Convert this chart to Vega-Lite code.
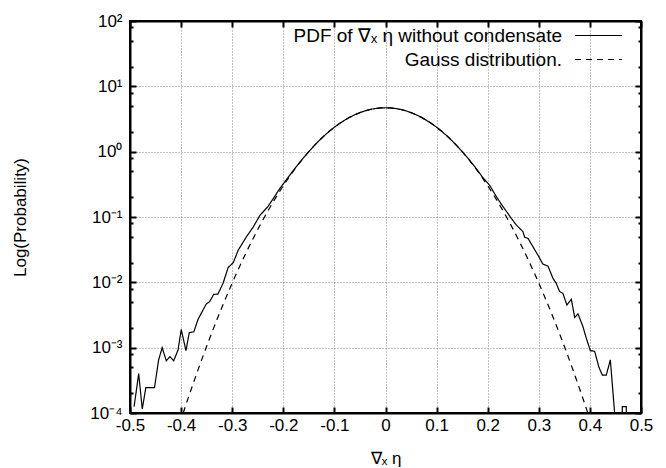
{
  "$schema": "https://vega.github.io/schema/vega-lite/v6.json",
  "width": 511,
  "height": 392,
  "autosize": {"type": "none"},
  "padding": {"left": 130, "top": 21, "right": 25, "bottom": 55},
  "background": "white",
  "config": {
    "view": {"stroke": "black", "strokeWidth": 2},
    "axis": {
      "labelFont": "Liberation Sans",
      "titleFont": "Liberation Sans",
      "labelFontSize": 17,
      "titleFontSize": 17,
      "titleFontWeight": "normal",
      "labelColor": "black",
      "titleColor": "black",
      "domain": true,
      "domainColor": "black",
      "domainWidth": 2,
      "tickColor": "black",
      "tickWidth": 2,
      "gridColor": "#888888",
      "gridDash": [1, 2],
      "gridWidth": 1
    },
    "legend": {
      "labelFont": "Liberation Sans",
      "labelFontSize": 19,
      "labelColor": "black",
      "labelLimit": 0
    }
  },
  "data": {
    "values": [
      {"series": "PDF of ∇ₓ η without condensate", "x": -0.492, "p": 0.000125},
      {"series": "PDF of ∇ₓ η without condensate", "x": -0.483, "p": 0.0004},
      {"series": "PDF of ∇ₓ η without condensate", "x": -0.476, "p": 0.000115},
      {"series": "PDF of ∇ₓ η without condensate", "x": -0.469, "p": 0.000245},
      {"series": "PDF of ∇ₓ η without condensate", "x": -0.461, "p": 0.000245},
      {"series": "PDF of ∇ₓ η without condensate", "x": -0.452, "p": 0.000245},
      {"series": "PDF of ∇ₓ η without condensate", "x": -0.444, "p": 0.00065},
      {"series": "PDF of ∇ₓ η without condensate", "x": -0.437, "p": 0.001},
      {"series": "PDF of ∇ₓ η without condensate", "x": -0.429, "p": 0.00063},
      {"series": "PDF of ∇ₓ η without condensate", "x": -0.422, "p": 0.00073},
      {"series": "PDF of ∇ₓ η without condensate", "x": -0.4145, "p": 0.00063},
      {"series": "PDF of ∇ₓ η without condensate", "x": -0.406, "p": 0.00092},
      {"series": "PDF of ∇ₓ η without condensate", "x": -0.3997, "p": 0.0019},
      {"series": "PDF of ∇ₓ η without condensate", "x": -0.3905, "p": 0.0009},
      {"series": "PDF of ∇ₓ η without condensate", "x": -0.384, "p": 0.0017},
      {"series": "PDF of ∇ₓ η without condensate", "x": -0.375, "p": 0.00175},
      {"series": "PDF of ∇ₓ η without condensate", "x": -0.367, "p": 0.0027},
      {"series": "PDF of ∇ₓ η without condensate", "x": -0.3606, "p": 0.00335},
      {"series": "PDF of ∇ₓ η without condensate", "x": -0.3508, "p": 0.00465},
      {"series": "PDF of ∇ₓ η without condensate", "x": -0.3442, "p": 0.00505},
      {"series": "PDF of ∇ₓ η without condensate", "x": -0.3363, "p": 0.00655},
      {"series": "PDF of ∇ₓ η without condensate", "x": -0.328, "p": 0.0066},
      {"series": "PDF of ∇ₓ η without condensate", "x": -0.318, "p": 0.0096},
      {"series": "PDF of ∇ₓ η without condensate", "x": -0.308, "p": 0.0168},
      {"series": "PDF of ∇ₓ η without condensate", "x": -0.298, "p": 0.02},
      {"series": "PDF of ∇ₓ η without condensate", "x": -0.288, "p": 0.0313},
      {"series": "PDF of ∇ₓ η without condensate", "x": -0.272, "p": 0.05},
      {"series": "PDF of ∇ₓ η without condensate", "x": -0.259, "p": 0.07},
      {"series": "PDF of ∇ₓ η without condensate", "x": -0.246, "p": 0.105},
      {"series": "PDF of ∇ₓ η without condensate", "x": -0.23, "p": 0.145},
      {"series": "PDF of ∇ₓ η without condensate", "x": -0.218, "p": 0.2},
      {"series": "PDF of ∇ₓ η without condensate", "x": -0.207, "p": 0.272},
      {"series": "PDF of ∇ₓ η without condensate", "x": -0.19, "p": 0.41},
      {"series": "PDF of ∇ₓ η without condensate", "x": -0.18, "p": 0.52},
      {"series": "PDF of ∇ₓ η without condensate", "x": -0.17, "p": 0.655},
      {"series": "PDF of ∇ₓ η without condensate", "x": -0.16, "p": 0.815},
      {"series": "PDF of ∇ₓ η without condensate", "x": -0.15, "p": 1.003},
      {"series": "PDF of ∇ₓ η without condensate", "x": -0.14, "p": 1.224},
      {"series": "PDF of ∇ₓ η without condensate", "x": -0.13, "p": 1.474},
      {"series": "PDF of ∇ₓ η without condensate", "x": -0.12, "p": 1.75},
      {"series": "PDF of ∇ₓ η without condensate", "x": -0.11, "p": 2.049},
      {"series": "PDF of ∇ₓ η without condensate", "x": -0.1, "p": 2.366},
      {"series": "PDF of ∇ₓ η without condensate", "x": -0.09, "p": 2.696},
      {"series": "PDF of ∇ₓ η without condensate", "x": -0.08, "p": 3.029},
      {"series": "PDF of ∇ₓ η without condensate", "x": -0.07, "p": 3.358},
      {"series": "PDF of ∇ₓ η without condensate", "x": -0.06, "p": 3.671},
      {"series": "PDF of ∇ₓ η without condensate", "x": -0.05, "p": 3.959},
      {"series": "PDF of ∇ₓ η without condensate", "x": -0.04, "p": 4.211},
      {"series": "PDF of ∇ₓ η without condensate", "x": -0.03, "p": 4.419},
      {"series": "PDF of ∇ₓ η without condensate", "x": -0.02, "p": 4.574},
      {"series": "PDF of ∇ₓ η without condensate", "x": -0.01, "p": 4.668},
      {"series": "PDF of ∇ₓ η without condensate", "x": 0, "p": 4.7},
      {"series": "PDF of ∇ₓ η without condensate", "x": 0.01, "p": 4.668},
      {"series": "PDF of ∇ₓ η without condensate", "x": 0.02, "p": 4.574},
      {"series": "PDF of ∇ₓ η without condensate", "x": 0.03, "p": 4.419},
      {"series": "PDF of ∇ₓ η without condensate", "x": 0.04, "p": 4.211},
      {"series": "PDF of ∇ₓ η without condensate", "x": 0.05, "p": 3.959},
      {"series": "PDF of ∇ₓ η without condensate", "x": 0.06, "p": 3.671},
      {"series": "PDF of ∇ₓ η without condensate", "x": 0.07, "p": 3.358},
      {"series": "PDF of ∇ₓ η without condensate", "x": 0.08, "p": 3.029},
      {"series": "PDF of ∇ₓ η without condensate", "x": 0.09, "p": 2.696},
      {"series": "PDF of ∇ₓ η without condensate", "x": 0.1, "p": 2.366},
      {"series": "PDF of ∇ₓ η without condensate", "x": 0.11, "p": 2.049},
      {"series": "PDF of ∇ₓ η without condensate", "x": 0.12, "p": 1.75},
      {"series": "PDF of ∇ₓ η without condensate", "x": 0.13, "p": 1.474},
      {"series": "PDF of ∇ₓ η without condensate", "x": 0.14, "p": 1.224},
      {"series": "PDF of ∇ₓ η without condensate", "x": 0.15, "p": 1.003},
      {"series": "PDF of ∇ₓ η without condensate", "x": 0.16, "p": 0.815},
      {"series": "PDF of ∇ₓ η without condensate", "x": 0.17, "p": 0.655},
      {"series": "PDF of ∇ₓ η without condensate", "x": 0.18, "p": 0.52},
      {"series": "PDF of ∇ₓ η without condensate", "x": 0.19, "p": 0.405},
      {"series": "PDF of ∇ₓ η without condensate", "x": 0.2039, "p": 0.305},
      {"series": "PDF of ∇ₓ η without condensate", "x": 0.217, "p": 0.205},
      {"series": "PDF of ∇ₓ η without condensate", "x": 0.23, "p": 0.144},
      {"series": "PDF of ∇ₓ η without condensate", "x": 0.2464, "p": 0.095},
      {"series": "PDF of ∇ₓ η without condensate", "x": 0.256, "p": 0.0755},
      {"series": "PDF of ∇ₓ η without condensate", "x": 0.269, "p": 0.0596},
      {"series": "PDF of ∇ₓ η without condensate", "x": 0.2724, "p": 0.049},
      {"series": "PDF of ∇ₓ η without condensate", "x": 0.279, "p": 0.047},
      {"series": "PDF of ∇ₓ η without condensate", "x": 0.2886, "p": 0.035},
      {"series": "PDF of ∇ₓ η without condensate", "x": 0.2984, "p": 0.026},
      {"series": "PDF of ∇ₓ η without condensate", "x": 0.308, "p": 0.019},
      {"series": "PDF of ∇ₓ η without condensate", "x": 0.318, "p": 0.0177},
      {"series": "PDF of ∇ₓ η without condensate", "x": 0.3277, "p": 0.0115},
      {"series": "PDF of ∇ₓ η without condensate", "x": 0.334, "p": 0.0097},
      {"series": "PDF of ∇ₓ η without condensate", "x": 0.3408, "p": 0.0072},
      {"series": "PDF of ∇ₓ η without condensate", "x": 0.347, "p": 0.0068},
      {"series": "PDF of ∇ₓ η without condensate", "x": 0.355, "p": 0.0045},
      {"series": "PDF of ∇ₓ η without condensate", "x": 0.3637, "p": 0.0055},
      {"series": "PDF of ∇ₓ η without condensate", "x": 0.3702, "p": 0.0029},
      {"series": "PDF of ∇ₓ η without condensate", "x": 0.3766, "p": 0.0033},
      {"series": "PDF of ∇ₓ η without condensate", "x": 0.3864, "p": 0.0021},
      {"series": "PDF of ∇ₓ η without condensate", "x": 0.393, "p": 0.00139},
      {"series": "PDF of ∇ₓ η without condensate", "x": 0.4009, "p": 0.0009},
      {"series": "PDF of ∇ₓ η without condensate", "x": 0.4093, "p": 0.00088},
      {"series": "PDF of ∇ₓ η without condensate", "x": 0.4177, "p": 0.0005},
      {"series": "PDF of ∇ₓ η without condensate", "x": 0.4243, "p": 0.00038},
      {"series": "PDF of ∇ₓ η without condensate", "x": 0.4321, "p": 0.00038},
      {"series": "PDF of ∇ₓ η without condensate", "x": 0.44, "p": 0.00065},
      {"series": "PDF of ∇ₓ η without condensate", "x": 0.4484, "p": 0.0001},
      {"series": "PDF of ∇ₓ η without condensate", "x": 0.4633, "p": 0.0001},
      {"series": "PDF of ∇ₓ η without condensate", "x": 0.4634, "p": 0.000125},
      {"series": "PDF of ∇ₓ η without condensate", "x": 0.4712, "p": 0.000125},
      {"series": "PDF of ∇ₓ η without condensate", "x": 0.4713, "p": 0.0001},
      {"series": "Gauss distribution.", "x": -0.3959, "p": 0.0001},
      {"series": "Gauss distribution.", "x": -0.39, "p": 0.0001376},
      {"series": "Gauss distribution.", "x": -0.38, "p": 0.000233},
      {"series": "Gauss distribution.", "x": -0.37, "p": 0.000391},
      {"series": "Gauss distribution.", "x": -0.36, "p": 0.000645},
      {"series": "Gauss distribution.", "x": -0.35, "p": 0.00105},
      {"series": "Gauss distribution.", "x": -0.34, "p": 0.001684},
      {"series": "Gauss distribution.", "x": -0.33, "p": 0.00267},
      {"series": "Gauss distribution.", "x": -0.32, "p": 0.00417},
      {"series": "Gauss distribution.", "x": -0.31, "p": 0.00642},
      {"series": "Gauss distribution.", "x": -0.3, "p": 0.00976},
      {"series": "Gauss distribution.", "x": -0.29, "p": 0.01463},
      {"series": "Gauss distribution.", "x": -0.28, "p": 0.0216},
      {"series": "Gauss distribution.", "x": -0.27, "p": 0.0316},
      {"series": "Gauss distribution.", "x": -0.26, "p": 0.0454},
      {"series": "Gauss distribution.", "x": -0.25, "p": 0.0644},
      {"series": "Gauss distribution.", "x": -0.24, "p": 0.0902},
      {"series": "Gauss distribution.", "x": -0.23, "p": 0.1245},
      {"series": "Gauss distribution.", "x": -0.22, "p": 0.1697},
      {"series": "Gauss distribution.", "x": -0.21, "p": 0.2279},
      {"series": "Gauss distribution.", "x": -0.2, "p": 0.302},
      {"series": "Gauss distribution.", "x": -0.19, "p": 0.3946},
      {"series": "Gauss distribution.", "x": -0.18, "p": 0.5086},
      {"series": "Gauss distribution.", "x": -0.17, "p": 0.6466},
      {"series": "Gauss distribution.", "x": -0.16, "p": 0.8114},
      {"series": "Gauss distribution.", "x": -0.15, "p": 1.003},
      {"series": "Gauss distribution.", "x": -0.14, "p": 1.224},
      {"series": "Gauss distribution.", "x": -0.13, "p": 1.474},
      {"series": "Gauss distribution.", "x": -0.12, "p": 1.75},
      {"series": "Gauss distribution.", "x": -0.11, "p": 2.049},
      {"series": "Gauss distribution.", "x": -0.1, "p": 2.366},
      {"series": "Gauss distribution.", "x": -0.09, "p": 2.696},
      {"series": "Gauss distribution.", "x": -0.08, "p": 3.029},
      {"series": "Gauss distribution.", "x": -0.07, "p": 3.358},
      {"series": "Gauss distribution.", "x": -0.06, "p": 3.671},
      {"series": "Gauss distribution.", "x": -0.05, "p": 3.959},
      {"series": "Gauss distribution.", "x": -0.04, "p": 4.211},
      {"series": "Gauss distribution.", "x": -0.03, "p": 4.419},
      {"series": "Gauss distribution.", "x": -0.02, "p": 4.574},
      {"series": "Gauss distribution.", "x": -0.01, "p": 4.668},
      {"series": "Gauss distribution.", "x": 0, "p": 4.7},
      {"series": "Gauss distribution.", "x": 0.01, "p": 4.668},
      {"series": "Gauss distribution.", "x": 0.02, "p": 4.574},
      {"series": "Gauss distribution.", "x": 0.03, "p": 4.419},
      {"series": "Gauss distribution.", "x": 0.04, "p": 4.211},
      {"series": "Gauss distribution.", "x": 0.05, "p": 3.959},
      {"series": "Gauss distribution.", "x": 0.06, "p": 3.671},
      {"series": "Gauss distribution.", "x": 0.07, "p": 3.358},
      {"series": "Gauss distribution.", "x": 0.08, "p": 3.029},
      {"series": "Gauss distribution.", "x": 0.09, "p": 2.696},
      {"series": "Gauss distribution.", "x": 0.1, "p": 2.366},
      {"series": "Gauss distribution.", "x": 0.11, "p": 2.049},
      {"series": "Gauss distribution.", "x": 0.12, "p": 1.75},
      {"series": "Gauss distribution.", "x": 0.13, "p": 1.474},
      {"series": "Gauss distribution.", "x": 0.14, "p": 1.224},
      {"series": "Gauss distribution.", "x": 0.15, "p": 1.003},
      {"series": "Gauss distribution.", "x": 0.16, "p": 0.8114},
      {"series": "Gauss distribution.", "x": 0.17, "p": 0.6466},
      {"series": "Gauss distribution.", "x": 0.18, "p": 0.5086},
      {"series": "Gauss distribution.", "x": 0.19, "p": 0.3946},
      {"series": "Gauss distribution.", "x": 0.2, "p": 0.302},
      {"series": "Gauss distribution.", "x": 0.21, "p": 0.2279},
      {"series": "Gauss distribution.", "x": 0.22, "p": 0.1697},
      {"series": "Gauss distribution.", "x": 0.23, "p": 0.1245},
      {"series": "Gauss distribution.", "x": 0.24, "p": 0.0902},
      {"series": "Gauss distribution.", "x": 0.25, "p": 0.0644},
      {"series": "Gauss distribution.", "x": 0.26, "p": 0.0454},
      {"series": "Gauss distribution.", "x": 0.27, "p": 0.0316},
      {"series": "Gauss distribution.", "x": 0.28, "p": 0.0216},
      {"series": "Gauss distribution.", "x": 0.29, "p": 0.01463},
      {"series": "Gauss distribution.", "x": 0.3, "p": 0.00976},
      {"series": "Gauss distribution.", "x": 0.31, "p": 0.00642},
      {"series": "Gauss distribution.", "x": 0.32, "p": 0.00417},
      {"series": "Gauss distribution.", "x": 0.33, "p": 0.00267},
      {"series": "Gauss distribution.", "x": 0.34, "p": 0.001684},
      {"series": "Gauss distribution.", "x": 0.35, "p": 0.00105},
      {"series": "Gauss distribution.", "x": 0.36, "p": 0.000645},
      {"series": "Gauss distribution.", "x": 0.37, "p": 0.000391},
      {"series": "Gauss distribution.", "x": 0.38, "p": 0.000233},
      {"series": "Gauss distribution.", "x": 0.39, "p": 0.0001376},
      {"series": "Gauss distribution.", "x": 0.3959, "p": 0.0001}
    ]
  },
  "layer": [
    {
      "mark": {"type": "line", "color": "black", "strokeWidth": 1.2},
      "encoding": {
        "x": {
          "field": "x",
          "type": "quantitative",
          "scale": {"domain": [-0.5, 0.5], "nice": false, "zero": false},
          "axis": {
            "orient": "bottom",
            "values": [-0.5, -0.4, -0.3, -0.2, -0.1, 0, 0.1, 0.2, 0.3, 0.4, 0.5],
            "labelExpr": "datum.value == 0 ? '0' : replace(format(datum.value, '.1f'), '\u2212', '-')",
            "labelFlush": false,
            "tickSize": -6,
            "labelPadding": 10,
            "grid": true,
            "title": "∇ₓ η",
            "titlePadding": 17
          }
        },
        "y": {
          "field": "p",
          "type": "quantitative",
          "scale": {"type": "log", "domain": [0.0001, 100], "nice": false},
          "axis": {
            "orient": "left",
            "values": [0.0001, 0.001, 0.01, 0.1, 1, 10, 100],
            "labelExpr": "datum.value == 100 ? '10²' : datum.value == 10 ? '10¹' : datum.value == 1 ? '10⁰' : datum.value == 0.1 ? '10⁻¹' : datum.value == 0.01 ? '10⁻²' : datum.value == 0.001 ? '10⁻³' : '10⁻⁴'",
            "tickSize": -6,
            "labelPadding": 14,
            "labelFlush": false,
            "labelOverlap": false,
            "grid": true,
            "title": "Log(Probability)",
            "titlePadding": 60
          }
        },
        "strokeDash": {
          "field": "series",
          "type": "nominal",
          "scale": {"domain": ["PDF of ∇ₓ η without condensate", "Gauss distribution."], "range": [[1, 0], [6, 5]]},
          "legend": {
            "title": null,
            "orient": "none",
            "legendX": 459,
            "legendY": 5,
            "symbolType": "M-4,0H4",
            "symbolSize": 137,
            "symbolStrokeWidth": 1.2,
            "symbolStrokeColor": "black",
            "symbolFillColor": "transparent",
            "labelAlign": "right",
            "labelOffset": -46,
            "rowPadding": 4,
            "padding": 0
          }
        }
      }
    },
    {
      "mark": {"type": "point", "opacity": 0},
      "encoding": {
        "x": {
          "datum": 0,
          "type": "quantitative",
          "axis": {
            "orient": "top",
            "values": [-0.5, -0.4, -0.3, -0.2, -0.1, 0, 0.1, 0.2, 0.3, 0.4, 0.5],
            "labels": false,
            "grid": false,
            "tickSize": -6,
            "title": null
          }
        },
        "y": {
          "datum": 1,
          "type": "quantitative",
          "axis": {
            "orient": "right",
            "values": [0.0001, 0.001, 0.01, 0.1, 1, 10, 100],
            "labels": false,
            "grid": false,
            "tickSize": -6,
            "title": null
          }
        }
      }
    },
    {
      "mark": {"type": "point", "opacity": 0},
      "encoding": {
        "x": {"datum": 0, "type": "quantitative", "axis": null},
        "y": {
          "datum": 1,
          "type": "quantitative",
          "axis": {
            "orient": "left",
            "values": [0.0002, 0.0005, 0.0008, 0.002, 0.005, 0.008, 0.02, 0.05, 0.08, 0.2, 0.5, 0.8, 2, 5, 8, 20, 50, 80],
            "labels": false,
            "grid": false,
            "domain": false,
            "tickSize": -3,
            "title": null
          }
        }
      }
    },
    {
      "mark": {"type": "point", "opacity": 0},
      "encoding": {
        "x": {"datum": 0, "type": "quantitative", "axis": null},
        "y": {
          "datum": 1,
          "type": "quantitative",
          "axis": {
            "orient": "right",
            "values": [0.0002, 0.0005, 0.0008, 0.002, 0.005, 0.008, 0.02, 0.05, 0.08, 0.2, 0.5, 0.8, 2, 5, 8, 20, 50, 80],
            "labels": false,
            "grid": false,
            "domain": false,
            "tickSize": -3,
            "title": null
          }
        }
      }
    }
  ],
  "resolve": {"axis": {"x": "independent", "y": "independent"}}
}
